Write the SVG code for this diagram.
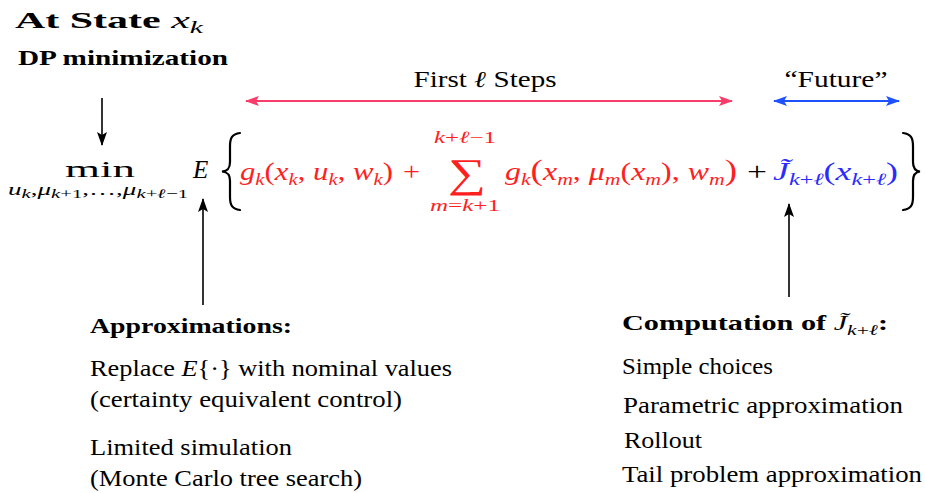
<svg xmlns="http://www.w3.org/2000/svg" width="925" height="493" viewBox="0 0 925 493" font-family="'Liberation Serif','Times New Roman','DejaVu Serif',serif">
<style>
.t{font-family:"Liberation Serif","Times New Roman","DejaVu Serif",serif;fill:#000}
.b{font-weight:bold}
.i{font-style:italic}
.r{fill:#ff1f1f}
.bl{fill:#2b2bff}
.brace{fill:none;stroke:#000;stroke-width:2.2;stroke-linecap:round}
.ar{stroke:#000;stroke-width:1.6;fill:none}
</style>
<defs>
<marker id="ak" viewBox="0 0 14 10" refX="13" refY="5" markerWidth="14" markerHeight="10" orient="auto" markerUnits="userSpaceOnUse"><path d="M0,0 L14,5 L0,10 L3,5 Z" fill="#000"/></marker>
<marker id="ap" viewBox="0 0 14 10" refX="13" refY="5" markerWidth="14" markerHeight="10" orient="auto-start-reverse" markerUnits="userSpaceOnUse"><path d="M0,0 L14,5 L0,10 L3,5 Z" fill="#fa3c6a"/></marker>
<marker id="ab" viewBox="0 0 14 10" refX="13" refY="5" markerWidth="14" markerHeight="10" orient="auto-start-reverse" markerUnits="userSpaceOnUse"><path d="M0,0 L14,5 L0,10 L3,5 Z" fill="#1f52ff"/></marker>
</defs>
<rect width="925" height="493" fill="#fff"/>

<g id="title">
<text class="t b" x="15" y="28" font-size="24" textLength="188" lengthAdjust="spacingAndGlyphs">At State <tspan class="i" font-weight="normal">x</tspan><tspan class="i" font-weight="normal" font-size="17" dy="5">k</tspan></text>
<text class="t b" x="18" y="65" font-size="22" textLength="210" lengthAdjust="spacingAndGlyphs">DP minimization</text>
</g>

<g id="formula">
<text class="t" x="100" y="177" font-size="24" text-anchor="middle" textLength="70" lengthAdjust="spacingAndGlyphs">min</text>
<text class="t i" x="8" y="195" font-size="17" textLength="180" lengthAdjust="spacingAndGlyphs">u<tspan font-size="13" dy="3">k</tspan><tspan dy="-3" font-style="normal">,</tspan>μ<tspan font-size="13" dy="3">k</tspan><tspan font-size="13" font-style="normal">+1</tspan><tspan dy="-3" font-style="normal">,…,</tspan>μ<tspan font-size="13" dy="3">k</tspan><tspan font-size="13" font-style="normal">+</tspan><tspan font-size="13">ℓ</tspan><tspan font-size="13" font-style="normal">−1</tspan></text>
<text class="t i" x="193" y="178" font-size="25">E</text>
<path class="brace" d="M240,133 C232,134 230,138 230,146 L230,162 C230,168 228,171 222,171.5 C228,172 230,175 230,181 L230,197 C230,205 232,209 240,210"/>
<text class="t r" x="240" y="180" font-size="25" textLength="153" lengthAdjust="spacingAndGlyphs"><tspan class="i">g</tspan><tspan class="i" font-size="17" dy="5">k</tspan><tspan dy="-5">(</tspan><tspan class="i">x</tspan><tspan class="i" font-size="17" dy="5">k</tspan><tspan dy="-5">, </tspan><tspan class="i">u</tspan><tspan class="i" font-size="17" dy="5">k</tspan><tspan dy="-5">, </tspan><tspan class="i">w</tspan><tspan class="i" font-size="17" dy="5">k</tspan><tspan dy="-5">)</tspan></text>
<text class="t r" x="403" y="180" font-size="25" textLength="17" lengthAdjust="spacingAndGlyphs">+</text>
<text class="t r" x="465" y="143" font-size="17" text-anchor="middle" textLength="62" lengthAdjust="spacingAndGlyphs"><tspan class="i">k</tspan>+<tspan class="i">ℓ</tspan>−1</text>
<text class="t r" x="467" y="187" font-size="41" text-anchor="middle" textLength="38" lengthAdjust="spacingAndGlyphs">∑</text>
<text class="t r" x="465" y="211" font-size="17" text-anchor="middle" textLength="70" lengthAdjust="spacingAndGlyphs"><tspan class="i">m</tspan>=<tspan class="i">k</tspan>+1</text>
<text class="t r" x="505" y="180" font-size="25" textLength="232" lengthAdjust="spacingAndGlyphs"><tspan class="i">g</tspan><tspan class="i" font-size="17" dy="5">k</tspan><tspan dy="-5" font-size="29">(</tspan><tspan class="i">x</tspan><tspan class="i" font-size="17" dy="5">m</tspan><tspan dy="-5">, </tspan><tspan class="i">μ</tspan><tspan class="i" font-size="17" dy="5">m</tspan><tspan dy="-5">(</tspan><tspan class="i">x</tspan><tspan class="i" font-size="17" dy="5">m</tspan><tspan dy="-5">), </tspan><tspan class="i">w</tspan><tspan class="i" font-size="17" dy="5">m</tspan><tspan dy="-5" font-size="29">)</tspan></text>
<text class="t" x="747" y="180" font-size="25" textLength="20" lengthAdjust="spacingAndGlyphs">+</text>
<text class="t bl" x="773" y="180" font-size="25" textLength="125" lengthAdjust="spacingAndGlyphs"><tspan class="i">J̃</tspan><tspan class="i" font-size="17" dy="5">k</tspan><tspan font-size="17">+</tspan><tspan class="i" font-size="17">ℓ</tspan><tspan dy="-5">(</tspan><tspan class="i">x</tspan><tspan class="i" font-size="17" dy="5">k</tspan><tspan font-size="17">+</tspan><tspan class="i" font-size="17">ℓ</tspan><tspan dy="-5">)</tspan></text>
<path class="brace" d="M903,133 C911,134 913,138 913,146 L913,162 C913,168 915,171 920,171.5 C915,172 913,175 913,181 L913,197 C913,205 911,209 903,210"/>
</g>

<g id="first-steps">
<text class="t" x="485" y="87" font-size="23" text-anchor="middle" textLength="143" lengthAdjust="spacingAndGlyphs">First <tspan class="i">ℓ</tspan> Steps</text>
</g>
<g id="future">
<text class="t" x="836" y="87" font-size="23" text-anchor="middle" textLength="103" lengthAdjust="spacingAndGlyphs">“Future”</text>
</g>

<g id="approximations">
<text class="t b" x="90" y="333" font-size="21" textLength="202" lengthAdjust="spacingAndGlyphs">Approximations:</text>
<text class="t" x="90" y="376" font-size="23" textLength="362" lengthAdjust="spacingAndGlyphs">Replace <tspan class="i">E</tspan>{·} with nominal values</text>
<text class="t" x="90" y="407" font-size="23" textLength="312" lengthAdjust="spacingAndGlyphs">(certainty equivalent control)</text>
<text class="t" x="90" y="455" font-size="23" textLength="202" lengthAdjust="spacingAndGlyphs">Limited simulation</text>
<text class="t" x="90" y="486" font-size="23" textLength="272" lengthAdjust="spacingAndGlyphs">(Monte Carlo tree search)</text>
</g>

<g id="computation">
<text class="t b" x="622" y="330" font-size="21" textLength="266" lengthAdjust="spacingAndGlyphs">Computation of <tspan class="i" font-weight="normal">J̃</tspan><tspan class="i" font-weight="normal" font-size="15" dy="5">k</tspan><tspan font-weight="normal" font-size="15">+</tspan><tspan class="i" font-weight="normal" font-size="15">ℓ</tspan><tspan dy="-5">:</tspan></text>
<text class="t" x="622" y="374" font-size="23" textLength="151" lengthAdjust="spacingAndGlyphs">Simple choices</text>
<text class="t" x="623" y="413" font-size="23" textLength="280" lengthAdjust="spacingAndGlyphs">Parametric approximation</text>
<text class="t" x="624" y="448" font-size="23" textLength="78" lengthAdjust="spacingAndGlyphs">Rollout</text>
<text class="t" x="622" y="482" font-size="23" textLength="300" lengthAdjust="spacingAndGlyphs">Tail problem approximation</text>
</g>

<g id="connectors">
<line class="ar" x1="102" y1="98" x2="102" y2="145" marker-end="url(#ak)"/>
<line class="ar" x1="203" y1="305" x2="203" y2="199" marker-end="url(#ak)"/>
<line class="ar" x1="789" y1="297" x2="789" y2="204" marker-end="url(#ak)"/>
<line x1="246" y1="101" x2="732" y2="101" stroke="#fa3c6a" stroke-width="2" marker-start="url(#ap)" marker-end="url(#ap)"/>
<line x1="774" y1="101" x2="899" y2="101" stroke="#1f52ff" stroke-width="2" marker-start="url(#ab)" marker-end="url(#ab)"/>
</g>
</svg>
